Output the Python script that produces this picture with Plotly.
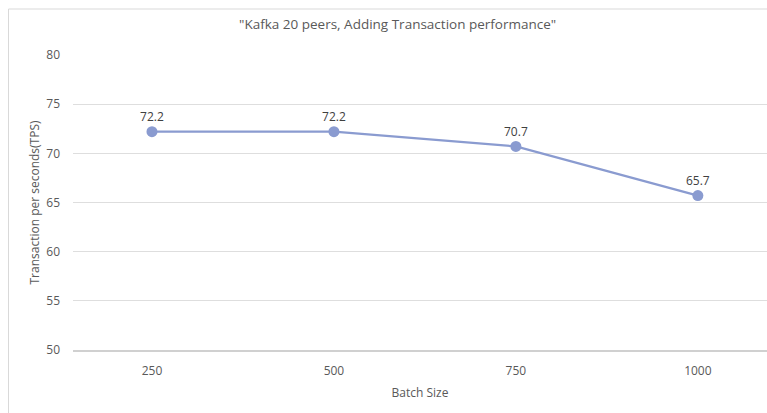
import plotly.graph_objects as go

categories = ["250", "500", "750", "1000"]
tps = [72.2, 72.2, 70.7, 65.7]
y_ticks = [50, 55, 60, 65, 70, 75, 80]

W, H = 767, 413
L, R, T, B = 73, 0, 55, H - 350

fig = go.Figure()
fig.add_trace(go.Scatter(
    x=categories, y=tps, mode="lines+markers+text",
    text=[f"{v:.1f}" for v in tps], textposition="top center",
    textfont=dict(family="Open Sans, sans-serif", size=12, color="#404040"),
    line=dict(color="#8A9BD0", width=2.25),
    marker=dict(size=11, color="#8A9BD0"),
    cliponaxis=False, showlegend=False, hoverinfo="skip",
))

pw = W - L - R
ph = H - T - B
def px_x(p):
    return (p - L) / pw
def px_y(p):
    return (H - B - p) / ph

fig.update_layout(
    width=W, height=H,
    margin=dict(l=L, r=R, t=T, b=B, pad=0),
    paper_bgcolor="white", plot_bgcolor="white",
    font=dict(family="Open Sans, sans-serif", color="#595959", size=12),
    xaxis=dict(type="category", range=[-0.434, 3.38], showgrid=False,
               showline=True, linecolor="#d0d0d0", linewidth=1.5,
               ticks="", tickfont=dict(size=12, color="#595959"), ticklabelstandoff=9,
               title=dict(text="Batch Size", font=dict(size=12, color="#595959"), standoff=10)),
    yaxis=dict(range=[50, 80], tickvals=y_ticks, showgrid=True, gridcolor="#dedede",
               gridwidth=1, zeroline=False, showline=False, ticks="",
               tickfont=dict(size=12, color="#595959"), ticklabelstandoff=12,
               title=dict(text="Transaction per seconds(TPS)", font=dict(size=12, color="#595959"), standoff=4)),
    shapes=[dict(type="rect", xref="paper", yref="paper",
                 x0=px_x(8.5), x1=px_x(790), y0=px_y(440), y1=px_y(9),
                 line=dict(color="#d9d9d9", width=1), fillcolor="rgba(0,0,0,0)", layer="below")],
    annotations=[dict(text="\"Kafka 20 peers, Adding Transaction performance\"",
                      xref="paper", yref="paper", x=px_x(397), y=px_y(24),
                      xanchor="center", yanchor="middle", showarrow=False,
                      font=dict(size=13.5, color="#595959"))],
)

fig.write_html("out.html", config={"displayModeBar": False, "staticPlot": True},
               post_script="document.body.style.margin='0';document.body.style.overflow='hidden';")
